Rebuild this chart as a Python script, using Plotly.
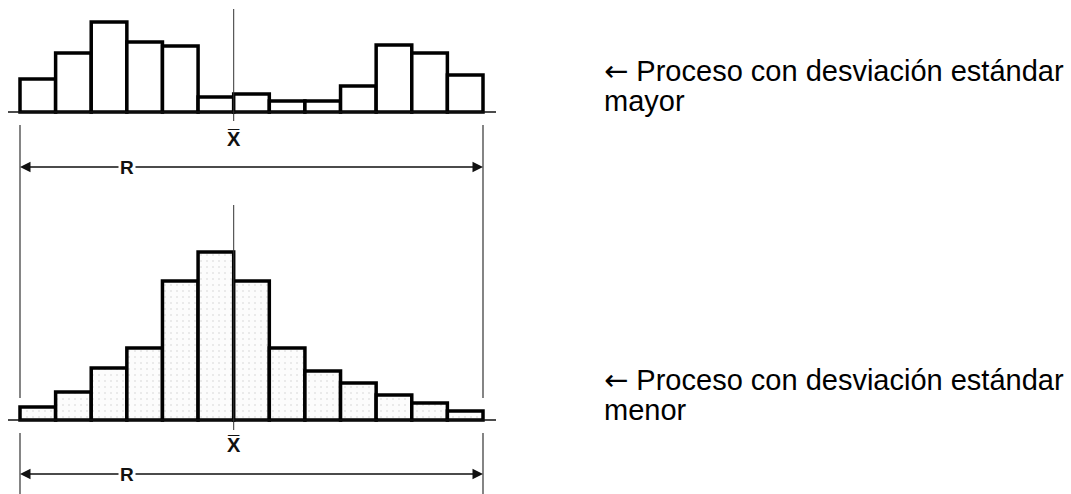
import plotly.graph_objects as go

# ---- data ----
bins = list(range(13))
freq_mayor = [33, 59, 90, 70, 66, 15, 18, 11, 11, 26, 67, 59, 37]   # larger std dev
freq_menor = [13, 28, 52, 72, 139, 168, 139, 72, 49, 37, 25, 17, 9]  # smaller std dev
mean_pos = 5.5
range_lo, range_hi = -0.5, 12.5
label_mean = "X\u0305"
label_range = "R"
arrow_glyph = "<span style='font-family:DejaVu Sans'>\u2190</span>"
text_mayor = [arrow_glyph + " Proceso con desviación estándar", "mayor"]
text_menor = [arrow_glyph + " Proceso con desviación estándar", "menor"]

# ---- layout constants (pixels) ----
W, H = 1071, 494
x_left_px, x_right_px = 20, 483
ppu = (x_right_px - x_left_px) / len(bins)
xr = [-0.5 - x_left_px / ppu, 12.5 + (W - x_right_px) / ppu]
top_base, bot_base = 112, 420

def px2x(p):
    return (p - x_left_px) / ppu - 0.5

fig = go.Figure()
fig.add_trace(go.Bar(
    x=bins, y=freq_mayor, width=1, yaxis="y",
    marker=dict(color="white", line=dict(color="black", width=3.5)),
    showlegend=False, hoverinfo="skip"))
fig.add_trace(go.Bar(
    x=bins, y=freq_menor, width=1, yaxis="y2",
    marker=dict(color="white", line=dict(color="black", width=3.5),
                pattern=dict(shape=".", fgcolor="#cfcfcf", bgcolor="#fcfcfc",
                             size=6, solidity=0.1)),
    showlegend=False, hoverinfo="skip"))

shapes = []
annotations = []
for yref, base, mean_top, mean_bot, rng_top, rng_bot, arrow_y, xbar_y in [
    ("y", top_base, 9, 121, 125, 398, 167, 139),
    ("y2", bot_base, 205, 430, 433, 500, 474, 445),
]:
    v = lambda p, b=base: b - p
    # baseline
    shapes.append(dict(type="line", xref="x", yref=yref, x0=px2x(8), x1=px2x(496),
                       y0=0, y1=0, line=dict(color="#111", width=1.5), layer="above"))
    # mean line
    shapes.append(dict(type="line", xref="x", yref=yref, x0=mean_pos, x1=mean_pos,
                       y0=v(mean_top), y1=v(mean_bot), line=dict(color="#333", width=1),
                       layer="above"))
    # range extension lines
    for xx in (range_lo, range_hi):
        shapes.append(dict(type="line", xref="x", yref=yref, x0=xx, x1=xx,
                           y0=v(rng_top), y1=v(rng_bot), line=dict(color="#333", width=1.2)))
    # range arrow
    for xx in (range_lo, range_hi):
        annotations.append(dict(x=xx, y=v(arrow_y), xref="x", yref=yref,
                                ax=2.5, ay=v(arrow_y), axref="x", ayref=yref,
                                text="", showarrow=True, arrowhead=2, arrowsize=1.4,
                                arrowwidth=1.5, arrowcolor="#111", standoff=0))
    annotations.append(dict(x=2.5, y=v(arrow_y), xref="x", yref=yref,
                            text="<b>" + label_range + "</b>",
                            showarrow=False, bgcolor="white", borderpad=1,
                            font=dict(family="Liberation Sans", size=19, color="#111"),
                            xanchor="center", yanchor="middle"))
    annotations.append(dict(x=mean_pos, y=v(xbar_y), xref="x", yref=yref,
                            text="<b>" + label_mean + "</b>",
                            showarrow=False,
                            font=dict(family="Liberation Sans", size=20, color="#111"),
                            xanchor="center", yanchor="middle"))

for lines, y1 in [(text_mayor, 71), (text_menor, 380)]:
    for i, t in enumerate(lines):
        annotations.append(dict(x=602 / W, y=1 - (y1 + i * 29.5) / H, xref="paper", yref="paper",
                                text=t, showarrow=False, xanchor="left", yanchor="middle",
                                font=dict(family="Liberation Sans, Arial", size=29, color="black")))

fig.update_layout(
    width=W, height=H, margin=dict(l=0, r=0, t=0, b=0),
    paper_bgcolor="white", plot_bgcolor="white", barmode="overlay",
    xaxis=dict(range=xr, visible=False, domain=[0, 1]),
    yaxis=dict(range=[top_base - H, top_base], visible=False, domain=[0, 1]),
    yaxis2=dict(range=[bot_base - H, bot_base], visible=False, overlaying="y"),
    shapes=shapes, annotations=annotations,
)
fig.write_html("out.html", config={"displayModeBar": False},
               post_script="document.body.style.margin='0';")
